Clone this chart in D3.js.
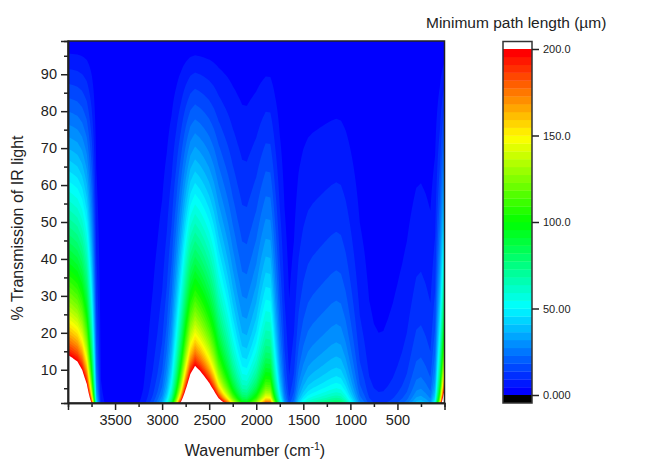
<!DOCTYPE html>
<html>

<head>
  <meta charset="UTF-8">
  <title>minimum-path-length</title>
  <style type="text/css">
    body {
      margin: 0;
      background: #fff;
    }

    text {
      font-family: "Liberation Sans", Arial, sans-serif;
      fill: #222;
    }

    .axis path,
    .axis line {
      stroke: #222;
      stroke-width: 1.5px;
    }

    .axis text {
      font-size: 14.5px;
    }

    .bar-axis text {
      font-size: 11px;
    }
  </style>
</head>

<body>
  <div class="svg-zone"></div>
  <script src="https://cdn.jsdelivr.net/npm/d3@7"></script>
  <script type="text/javascript">
    // wavenumber columns, 4000 down to 0 in steps of 50 cm-1
    var wavenumbers = [
      4000, 3950, 3900, 3850, 3800, 3750, 3700, 3650, 3600, 3550, 3500, 3450, 3400, 3350, 3300, 3250,
      3200, 3150, 3100, 3050, 3000, 2950, 2900, 2850, 2800, 2750, 2700, 2650, 2600, 2550, 2500, 2450,
      2400, 2350, 2300, 2250, 2200, 2150, 2100, 2050, 2000, 1950, 1900, 1850, 1800, 1750, 1700, 1650,
      1600, 1550, 1500, 1450, 1400, 1350, 1300, 1250, 1200, 1150, 1100, 1050, 1000, 950, 900, 850,
      800, 750, 700, 650, 600, 550, 500, 450, 400, 350, 300, 250, 200, 150, 100, 50, 0
    ];

    // path length (um) that leaves 10 % transmission at each wavenumber
    var pathAt10pct = [
      234, 227, 219, 200, 165, 100, 24, 4, 1.8, 1.4, 1.2, 1.1, 1.1, 1.2, 1.5, 2.1,
      3.5, 6, 9, 13, 18, 28, 44, 72, 107, 150, 190, 209, 198, 184, 168, 147,
      122, 105, 90, 74, 62, 52, 51, 58, 66, 80, 93, 92, 60, 34, 17, 8.5,
      13, 23, 29, 33, 35, 36.5, 38, 39.5, 41, 42, 41, 36, 29, 22, 15, 12,
      8.4, 7, 6.5, 6.6, 7.3, 8.2, 9.5, 11, 13, 16.5, 20, 20.8, 19, 16.5, 27, 72, 150
    ];

    var transmissionRows = d3.range(1, 99.01, 0.5);

    var xTicks = [3500, 3000, 2500, 2000, 1500, 1000, 500];
    var xMinorTicks = [3750, 3250, 2750, 2250, 1750, 1250, 750, 250];
    var yTicks = [10, 20, 30, 40, 50, 60, 70, 80, 90];
    var yMinorTicks = [5, 15, 25, 35, 45, 55, 65, 75, 85, 95];
    var barTicks = [0, 50, 100, 150, 200];
    var barTickLabels = ["0.000", "50.00", "100.0", "150.0", "200.0"];
    var rainbow = ["#0000ff", "#00ffff", "#00ff00", "#ffff00", "#ff0000"];

    var width = 647,
      height = 461,
      levelCount = 44,
      maxPath = 200;

    var x = d3.scaleLinear().domain([4000, 0]).range([68, 444.5]),
      y = d3.scaleLinear().domain([1, 99]).range([403, 41]),
      barY = d3.scaleLinear().domain([0, maxPath]).range([395, 49]);

    var color = d3.scaleLinear()
      .domain([0, 0.25, 0.5, 0.75, 1])
      .range(rainbow);

    var levels = d3.range(levelCount).map(function (i) { return i * maxPath / levelCount; });
    function bandColor(i) { return color(i / (levelCount - 1)); }

    var svg = d3.select(".svg-zone").append("svg")
      .attr("width", width)
      .attr("height", height);

    svg.append("clipPath").attr("id", "plot-clip")
      .append("rect")
      .attr("x", x(4000)).attr("y", y(99))
      .attr("width", x(0) - x(4000)).attr("height", y(1) - y(99));

    // Beer-Lambert: path length scales with absorbance, so each column comes from its read value
    var grid = [];
    transmissionRows.forEach(function (t) {
      pathAt10pct.forEach(function (l10) {
        grid.push(l10 * (2 - Math.log10(t)));
      });
    });

    var nx = wavenumbers.length,
      ny = transmissionRows.length;

    var contours = d3.contours()
      .size([nx, ny])
      .thresholds(levels.slice(1).concat([maxPath]))(grid);

    var colIndex = d3.scaleLinear().domain([0, nx - 1]).range([wavenumbers[0], wavenumbers[nx - 1]]),
      rowIndex = d3.scaleLinear().domain([0, ny - 1]).range([transmissionRows[0], transmissionRows[ny - 1]]);

    var path = d3.geoPath(d3.geoTransform({
      point: function (cx, cy) {
        this.stream.point(x(colIndex(cx - 0.5)), y(rowIndex(cy - 0.5)));
      }
    }));

    var plot = svg.append("g").attr("clip-path", "url(#plot-clip)");

    plot.append("rect")
      .attr("x", x(4000)).attr("y", y(99))
      .attr("width", x(0) - x(4000)).attr("height", y(1) - y(99))
      .attr("fill", bandColor(0));

    plot.selectAll(".band")
      .data(contours)
      .enter().append("path")
      .attr("class", "band")
      .attr("d", path)
      .attr("fill", function (d, i) { return i + 1 < levelCount ? bandColor(i + 1) : "#fff"; });

    // frame and axes
    svg.append("rect")
      .attr("x", x(4000)).attr("y", y(99))
      .attr("width", x(0) - x(4000)).attr("height", y(1) - y(99))
      .attr("fill", "none")
      .attr("stroke", "#222")
      .attr("stroke-width", 1.5);

    svg.append("g").attr("class", "axis")
      .attr("transform", "translate(0," + y(1) + ")")
      .call(d3.axisBottom(x).tickValues(xTicks).tickFormat(d3.format("d")).tickSize(7).tickPadding(5));

    svg.append("g").attr("class", "axis")
      .attr("transform", "translate(0," + y(1) + ")")
      .call(d3.axisBottom(x).tickValues(xMinorTicks).tickFormat("").tickSize(4));

    svg.append("g").attr("class", "axis")
      .attr("transform", "translate(" + x(4000) + ",0)")
      .call(d3.axisLeft(y).tickValues(yTicks).tickFormat(d3.format("d")).tickSize(7).tickPadding(4));

    svg.append("g").attr("class", "axis")
      .attr("transform", "translate(" + x(4000) + ",0)")
      .call(d3.axisLeft(y).tickValues(yMinorTicks).tickFormat("").tickSize(4));

    var xLabel = svg.append("text")
      .attr("x", 255).attr("y", 456)
      .attr("text-anchor", "middle")
      .style("font-size", "16px")
      .text("Wavenumber (cm");
    xLabel.append("tspan").attr("dy", -6).style("font-size", "10.5px").text("-1");
    xLabel.append("tspan").attr("dy", 6).text(")");

    svg.append("text")
      .attr("transform", "translate(23,228) rotate(-90)")
      .attr("text-anchor", "middle")
      .style("font-size", "16px")
      .text("% Transmission of IR light");

    svg.append("text")
      .attr("x", 426).attr("y", 28)
      .style("font-size", "15.5px")
      .text("Minimum path length (\u00b5m)");

    // colour bar
    var barX = 503,
      barW = 29;

    var bar = svg.append("g");

    bar.selectAll(".level")
      .data(levels)
      .enter().append("rect")
      .attr("class", "level")
      .attr("x", barX)
      .attr("width", barW)
      .attr("y", function (d) { return barY(d + maxPath / levelCount); })
      .attr("height", barY(0) - barY(maxPath / levelCount) + 0.3)
      .attr("fill", function (d, i) { return bandColor(i); });

    bar.append("rect")
      .attr("x", barX).attr("y", barY(0))
      .attr("width", barW).attr("height", 8)
      .attr("fill", "#000");

    bar.append("rect")
      .attr("x", barX).attr("y", 41.5)
      .attr("width", barW).attr("height", 403 - 41.5)
      .attr("fill", "none")
      .attr("stroke", "#333")
      .attr("stroke-width", 1.5);

    svg.append("g").attr("class", "axis bar-axis")
      .attr("transform", "translate(" + (barX + barW) + ",0)")
      .call(d3.axisRight(barY).tickValues(barTicks)
        .tickFormat(function (d, i) { return barTickLabels[i]; })
        .tickSize(7).tickPadding(4))
      .call(function (g) { g.select(".domain").remove(); });
  </script>

</body>

</html>
